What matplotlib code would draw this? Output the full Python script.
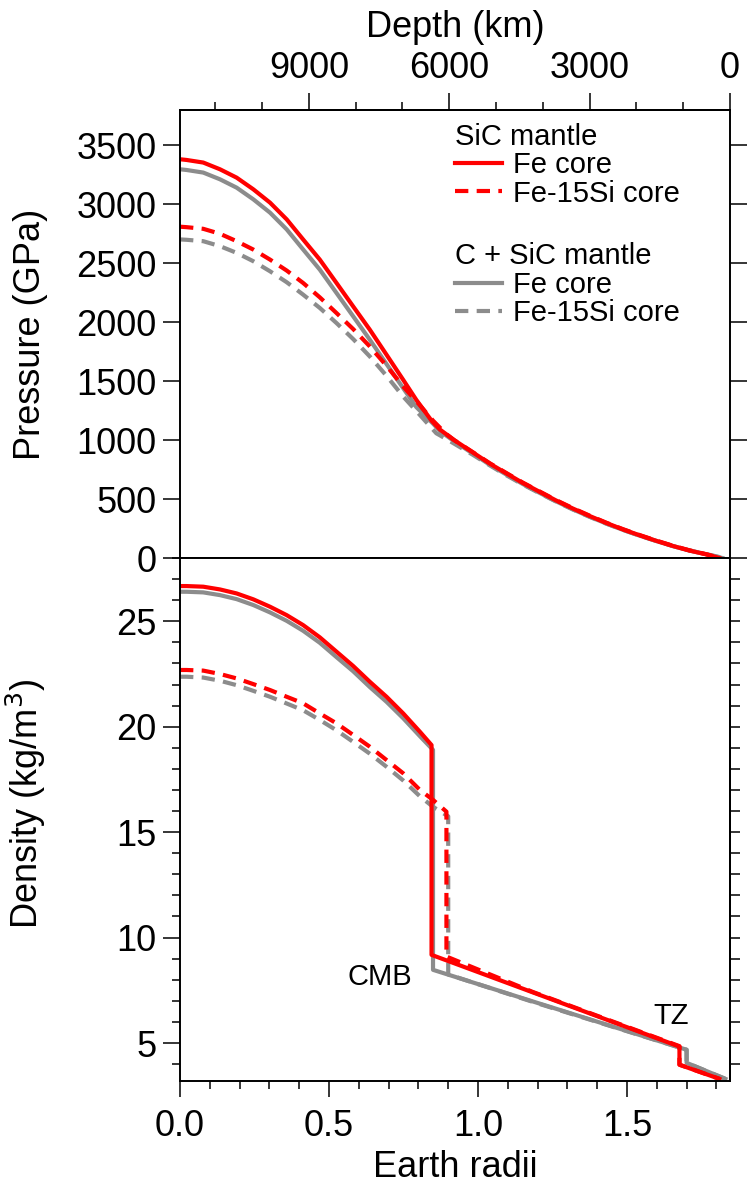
import numpy as np
import matplotlib
matplotlib.use('Agg')
import matplotlib.pyplot as plt
from matplotlib.ticker import MultipleLocator, FormatStrFormatter

plt.rcParams['font.family'] = ['Liberation Sans', 'DejaVu Sans']

# ---- pressure profiles (GPa) vs radius (Earth radii) ----
# SiC mantle, Fe core
x_p_red = [0, 0.022, 0.078, 0.134, 0.19, 0.246, 0.302, 0.358, 0.413, 0.469, 0.525,
           0.581, 0.637, 0.693, 0.749, 0.793, 0.844, 0.872, 0.92, 0.983, 1.04,
           1.095, 1.15, 1.207, 1.262, 1.318, 1.374, 1.43, 1.486, 1.542, 1.598,
           1.654, 1.71, 1.766, 1.81]
p_red = [3382, 3376, 3354, 3297, 3226, 3127, 3014, 2872, 2702, 2531, 2333,
         2134, 1936, 1724, 1511, 1341, 1165, 1090, 1000, 895, 800,
         718, 637, 561, 488, 420, 357, 298, 243, 193, 146,
         102, 63, 31, 0]

# C + SiC mantle, Fe core
x_p_gray = [0, 0.022, 0.078, 0.134, 0.19, 0.246, 0.302, 0.358, 0.413, 0.469, 0.525,
            0.581, 0.637, 0.693, 0.749, 0.793, 0.849, 0.872, 0.92, 0.983, 1.04,
            1.095, 1.15, 1.207, 1.262, 1.318, 1.374, 1.43, 1.486, 1.542, 1.598,
            1.654, 1.71, 1.766, 1.82]
p_gray = [3297, 3291, 3269, 3212, 3141, 3042, 2929, 2787, 2617, 2446, 2248,
          2050, 1851, 1645, 1440, 1280, 1140, 1078, 990, 885, 790,
          708, 628, 552, 481, 413, 351, 293, 239, 190, 144,
          101, 63, 32, 0]

# SiC mantle, Fe-15Si core
x_p_red_si = [0, 0.022, 0.078, 0.134, 0.19, 0.246, 0.302, 0.358, 0.413, 0.469, 0.525,
              0.581, 0.637, 0.693, 0.749, 0.793, 0.849, 0.894, 0.92, 0.983, 1.04,
              1.095, 1.15, 1.207, 1.262, 1.318, 1.374, 1.43, 1.486, 1.542, 1.598,
              1.654, 1.71, 1.766, 1.81]
p_red_si = [2810, 2806, 2792, 2750, 2687, 2616, 2531, 2438, 2333, 2211, 2078,
            1942, 1794, 1630, 1454, 1330, 1165, 1050, 1000, 897, 803,
            721, 640, 564, 491, 423, 360, 300, 245, 195, 148,
            104, 65, 32, 0]

# C + SiC mantle, Fe-15Si core
x_p_gray_si = [0, 0.022, 0.078, 0.134, 0.19, 0.246, 0.302, 0.358, 0.413, 0.469, 0.525,
               0.581, 0.637, 0.693, 0.749, 0.805, 0.86, 0.90, 0.983, 1.04,
               1.095, 1.15, 1.207, 1.262, 1.318, 1.374, 1.43, 1.486, 1.542, 1.598,
               1.654, 1.71, 1.766, 1.825]
p_gray_si = [2702, 2699, 2687, 2645, 2588, 2517, 2432, 2339, 2234, 2121, 1993,
             1857, 1709, 1545, 1369, 1213, 1058, 1000, 875, 785,
             702, 624, 549, 479, 412, 350, 292, 239, 190, 145,
             102, 64, 33, 0]

# ---- density profiles ----
x_d_red = [0, 0.022, 0.078, 0.134, 0.19, 0.246, 0.302, 0.358, 0.413, 0.469, 0.525,
           0.581, 0.637, 0.693, 0.749, 0.805, 0.844, 0.844,
           1.184, 1.676, 1.676, 1.81]
d_red = [26.67, 26.67, 26.64, 26.51, 26.32, 26.04, 25.69, 25.29, 24.82, 24.24, 23.56,
         22.88, 22.13, 21.42, 20.63, 19.76, 19.13, 9.18,
         7.40, 4.83, 3.97, 3.30]

x_d_gray = [0, 0.022, 0.078, 0.134, 0.19, 0.246, 0.302, 0.358, 0.413, 0.469, 0.525,
            0.581, 0.637, 0.693, 0.749, 0.805, 0.849, 0.849,
            1.184, 1.70, 1.70, 1.83]
d_gray = [26.40, 26.40, 26.37, 26.24, 26.05, 25.77, 25.42, 25.02, 24.55, 23.98, 23.30,
          22.63, 21.88, 21.18, 20.40, 19.55, 18.90, 8.47,
          6.97, 4.68, 4.06, 3.30]

x_d_red_si = [0, 0.022, 0.078, 0.134, 0.19, 0.246, 0.302, 0.358, 0.413, 0.469, 0.525,
              0.581, 0.637, 0.693, 0.749, 0.805, 0.849, 0.894, 0.894,
              1.184, 1.676, 1.676, 1.81]
d_red_si = [22.69, 22.69, 22.66, 22.50, 22.29, 22.02, 21.74, 21.42, 21.11, 20.63, 20.16,
            19.61, 19.05, 18.42, 17.79, 17.00, 16.53, 15.97, 9.10,
            7.42, 4.85, 3.97, 3.30]

x_d_gray_si = [0, 0.022, 0.078, 0.134, 0.19, 0.246, 0.302, 0.358, 0.413, 0.469, 0.525,
               0.581, 0.637, 0.693, 0.749, 0.805, 0.849, 0.90, 0.90,
               1.184, 1.70, 1.70, 1.83]
d_gray_si = [22.37, 22.37, 22.33, 22.18, 21.97, 21.70, 21.42, 21.10, 20.78, 20.32, 19.83,
             19.28, 18.72, 18.10, 17.45, 16.70, 16.20, 15.75, 8.25,
             6.95, 4.68, 4.06, 3.30]

RED = '#ff0000'
GRAY = '#8c8c8c'
LW = 3.0
DASH = (3.2, 2.0)
R_PLANET = 1.845
KM_PER_RE = 6371.0


def style_axis(ax):
    for s in ax.spines.values():
        s.set_linewidth(1.4)
    ax.tick_params(which='major', direction='out', length=12, width=1.1,
                   labelsize=26, pad=5)
    ax.tick_params(which='minor', direction='out', length=6, width=1.1)


fig = plt.figure(figsize=(7.47, 11.85), dpi=100)
ax1 = fig.add_axes([0.241, 0.5291, 0.736, 0.3781])
ax2 = fig.add_axes([0.241, 0.0878, 0.736, 0.4413])

# pressure panel
ax1.plot(x_p_gray, p_gray, color=GRAY, lw=LW)
ax1.plot(x_p_gray_si, p_gray_si, color=GRAY, lw=LW, dashes=DASH)
ax1.plot(x_p_red, p_red, color=RED, lw=LW)
ax1.plot(x_p_red_si, p_red_si, color=RED, lw=LW, dashes=DASH)
ax1.set_xlim(0, R_PLANET)
ax1.set_ylim(0, 3800)
ax1.yaxis.set_major_locator(MultipleLocator(500))
style_axis(ax1)
ax1.tick_params(axis='x', bottom=False, labelbottom=False)
ax1.tick_params(axis='y', right=True)
ax1.set_ylabel('Pressure (GPa)', fontsize=26)
ax1.yaxis.set_label_coords(-0.24, 0.5)

depth = ax1.secondary_xaxis('top', functions=(lambda x: (R_PLANET - x) * KM_PER_RE,
                                              lambda d: R_PLANET - d / KM_PER_RE))
depth.set_xticks([9000, 6000, 3000, 0])
depth.set_xticks([11000, 10000, 8000, 7000, 5000, 4000, 2000, 1000], minor=True)
depth.spines['top'].set_linewidth(1.4)
depth.tick_params(which='major', direction='out', length=12, width=1.1, labelsize=26, pad=5)
depth.tick_params(which='minor', direction='out', length=6, width=1.1)
depth.set_xlabel('Depth (km)', fontsize=26, labelpad=10)

leg_kw = dict(loc='upper left', frameon=False, fontsize=21, title_fontsize=21,
              alignment='left', borderpad=0, borderaxespad=0, handlelength=1.6,
              handletextpad=0.4, labelspacing=0.02)
leg1 = ax1.legend(ax1.lines[2:4], ['Fe core', 'Fe-15Si core'], title='SiC mantle',
                  bbox_to_anchor=(0.5, 0.972), **leg_kw)
ax1.add_artist(leg1)
ax1.legend(ax1.lines[0:2], ['Fe core', 'Fe-15Si core'], title='C + SiC mantle',
           bbox_to_anchor=(0.5, 0.705), **leg_kw)

# density panel
ax2.plot(x_d_gray, d_gray, color=GRAY, lw=LW)
ax2.plot(x_d_gray_si, d_gray_si, color=GRAY, lw=LW, dashes=DASH)
ax2.plot(x_d_red, d_red, color=RED, lw=LW)
ax2.plot(x_d_red_si, d_red_si, color=RED, lw=LW, dashes=DASH)
ax2.set_xlim(0, R_PLANET)
ax2.set_ylim(3.2, 28)
ax2.xaxis.set_major_locator(MultipleLocator(0.5))
ax2.xaxis.set_minor_locator(MultipleLocator(0.1))
ax2.yaxis.set_major_locator(MultipleLocator(5))
ax2.yaxis.set_minor_locator(MultipleLocator(1))
style_axis(ax2)
ax2.tick_params(axis='x', which='major', length=11.5, pad=9)
ax2.tick_params(axis='x', which='minor', length=6)
ax2.xaxis.set_major_formatter(FormatStrFormatter('%.1f'))
rsec = ax2.secondary_yaxis('right')
rsec.set_yticks(np.arange(4, 28))
rsec.tick_params(direction='out', length=7, width=1.1, labelright=False)
rsec.spines['right'].set_linewidth(1.4)
ax2.set_ylabel('Density (kg/m$^3$)', fontsize=26)
ax2.yaxis.set_label_coords(-0.24, 0.53)
ax2.set_xlabel('Earth radii', fontsize=26, labelpad=4)

ax2.text(0.67, 8.14, 'CMB', fontsize=21, ha='center', va='center')
ax2.text(1.648, 6.26, 'TZ', fontsize=21, ha='center', va='center')

fig.savefig('out.png', dpi=100)
